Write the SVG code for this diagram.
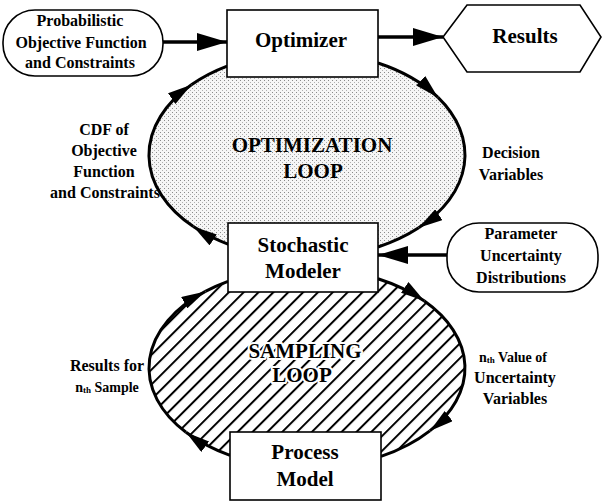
<svg xmlns="http://www.w3.org/2000/svg" width="602" height="502" viewBox="0 0 602 502">
<style>
.box{fill:#fff;stroke:#000;stroke-width:1.6}
.t{font-family:"Liberation Serif","Times New Roman",serif;font-weight:bold;fill:#000;text-anchor:middle}
.big{font-size:21px}
.lbl{font-size:16px}
.sm{font-size:14px}
.loop{fill:none;stroke:#000;stroke-width:3}
.arr{fill:none;stroke:#000;stroke-width:3.5}
.halo{stroke:#fff;stroke-width:4;paint-order:stroke;stroke-linejoin:round}
</style>
<defs>
<pattern id="dots" width="4" height="4" patternUnits="userSpaceOnUse">
<rect width="4" height="4" fill="#f6f6f6"/>
<rect x="0" y="0" width="1" height="1" fill="#8a8a8a"/>
<rect x="2" y="2" width="1" height="1" fill="#b0b0b0"/>
</pattern>
<pattern id="hatch" width="10.5" height="10.5" patternUnits="userSpaceOnUse" patternTransform="rotate(45)">
<rect width="10.5" height="10.5" fill="#fff"/>
<line x1="1" y1="0" x2="1" y2="10.5" stroke="#000" stroke-width="2"/>
</pattern>
<marker id="ah" viewBox="0 0 24 13" refX="24" refY="6.5" markerWidth="24" markerHeight="13" markerUnits="userSpaceOnUse" orient="auto">
<path d="M0,0 L24,6.5 L0,13 z" fill="#000"/>
</marker>
<marker id="ahs" viewBox="0 0 30 18" refX="30" refY="9" markerWidth="30" markerHeight="18" markerUnits="userSpaceOnUse" orient="auto">
<path d="M0,0 L30,9 L0,18 z" fill="#000"/>
</marker>
</defs>

<g id="optimization-loop">
<ellipse cx="307" cy="155" rx="158" ry="103" fill="url(#dots)"/>
<text class="t big" x="312" y="152">OPTIMIZATION</text>
<text class="t big" x="313" y="178">LOOP</text>
</g>

<g id="sampling-loop">
<ellipse cx="307" cy="368" rx="158" ry="100" fill="url(#hatch)"/>
<text class="t big halo" x="305" y="358">SAMPLING</text>
<text class="t big halo" x="302" y="382">LOOP</text>
</g>

<g id="connectors">
<line class="arr" x1="163" y1="42" x2="227" y2="42" marker-end="url(#ahs)"/>
<line class="arr" x1="378" y1="37" x2="443" y2="37" marker-end="url(#ahs)"/>
<line class="arr" x1="447" y1="255" x2="378" y2="255" marker-end="url(#ahs)"/>
<path class="loop" d="M378,63 A158,103 0 0 1 438,97.4" marker-end="url(#ah)"/>
<path class="loop" d="M438,97.4 A158,103 0 0 1 418.7,227.8" marker-end="url(#ah)"/>
<path class="loop" d="M418.7,227.8 A158,103 0 0 1 378,247"/>
<path class="loop" d="M230.4,245.1 A158,103 0 0 1 193.3,226.6" marker-end="url(#ah)"/>
<path class="loop" d="M193.3,226.6 A158,103 0 0 1 191.4,84.8" marker-end="url(#ah)"/>
<path class="loop" d="M191.4,84.8 A158,103 0 0 1 227.1,66.2"/>
<path class="loop" d="M378,278.7 A158,100 0 0 1 424.4,301.1" marker-end="url(#ah)"/>
<path class="loop" d="M424.4,301.1 A158,100 0 0 1 429.8,430.9" marker-end="url(#ah)"/>
<path class="loop" d="M429.8,430.9 A158,100 0 0 1 381,456.4"/>
<path class="loop" d="M230,455.3 A158,100 0 0 1 186,432.3" marker-end="url(#ah)"/>
<path class="loop" d="M186,432.3 A158,100 0 0 1 205.4,291.4" marker-end="url(#ah)"/>
<path class="loop" d="M205.4,291.4 A158,100 0 0 1 228,281.4"/>
</g>

<g id="probabilistic">
<rect class="box" x="3" y="10" width="160" height="66" rx="32" ry="32"/>
<text class="t lbl" x="80" y="26">Probabilistic</text>
<text class="t lbl" x="81" y="48">Objective Function</text>
<text class="t lbl" x="80" y="68">and Constraints</text>
</g>

<g id="optimizer">
<rect class="box" x="227" y="10" width="151" height="67"/>
<text class="t big" x="301" y="47">Optimizer</text>
</g>

<g id="results">
<polygon class="box" points="443,37 467,5 580,5 601,37 580,72 467,72"/>
<text class="t big" x="525" y="43">Results</text>
</g>

<g id="stochastic-modeler">
<rect class="box" x="228" y="223" width="150" height="69"/>
<text class="t big" x="303" y="252">Stochastic</text>
<text class="t big" x="303" y="278">Modeler</text>
</g>

<g id="parameter-uncertainty">
<rect class="box" x="447" y="223" width="151" height="69" rx="32" ry="32"/>
<text class="t lbl" x="521" y="239">Parameter</text>
<text class="t lbl" x="521" y="261">Uncertainty</text>
<text class="t lbl" x="521" y="283">Distributions</text>
</g>

<g id="process-model">
<rect class="box" x="230" y="432" width="151" height="68"/>
<text class="t big" x="305" y="459">Process</text>
<text class="t big" x="305" y="486">Model</text>
</g>

<g id="label-cdf">
<text class="t lbl" x="104" y="135">CDF of</text>
<text class="t lbl" x="104" y="156">Objective</text>
<text class="t lbl" x="104" y="177">Function</text>
<text class="t lbl" x="105" y="198">and Constraints</text>
</g>

<g id="label-decision">
<text class="t lbl" x="511" y="158">Decision</text>
<text class="t lbl" x="511" y="180">Variables</text>
</g>

<g id="label-results-for">
<text class="t lbl" x="107" y="371">Results for</text>
<text class="t sm" x="107" y="392">n<tspan font-size="9" dy="1">th</tspan><tspan dy="-1"> Sample</tspan></text>
</g>

<g id="label-nth-value">
<text class="t sm" x="513" y="362">n<tspan font-size="9" dy="1">th</tspan><tspan dy="-1"> Value of</tspan></text>
<text class="t lbl" x="515" y="383">Uncertainty</text>
<text class="t lbl" x="515" y="404">Variables</text>
</g>
</svg>
